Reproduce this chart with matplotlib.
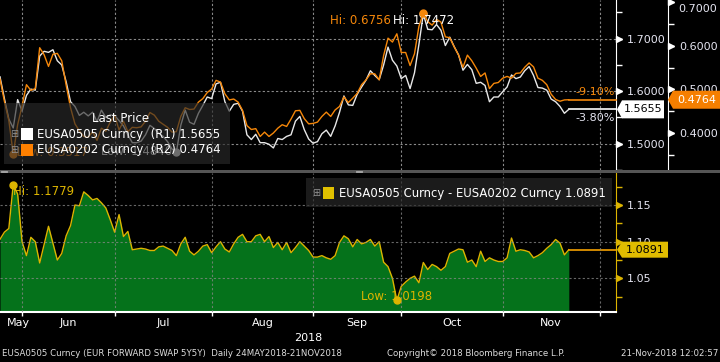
import numpy as np
import pandas as pd
import matplotlib
matplotlib.use('Agg')
import matplotlib.pyplot as plt
import matplotlib.transforms as mtransforms
from matplotlib.patches import Rectangle, Polygon

# daily business days shown on the chart
dates = pd.bdate_range('2018-05-24', '2018-11-21')

r1_name = 'EUSA0505 Curncy'
r2_name = 'EUSA0202 Curncy'

# EUSA0505 (R1, white)
r1_vals = [
    1.6274, 1.586, 1.547, 1.530, 1.584, 1.562, 1.592, 1.604, 1.602, 1.667,
    1.676, 1.674, 1.679, 1.658, 1.650, 1.618, 1.580, 1.571, 1.554, 1.560,
    1.553, 1.560, 1.542, 1.564, 1.550, 1.555, 1.554, 1.544, 1.534, 1.517,
    1.502, 1.502, 1.505, 1.517, 1.535, 1.529, 1.520, 1.514, 1.504, 1.490,
    1.484, 1.535, 1.564, 1.541, 1.537, 1.558, 1.573, 1.589, 1.586, 1.614,
    1.617, 1.580, 1.562, 1.575, 1.577, 1.562, 1.517, 1.508, 1.518, 1.502,
    1.502, 1.499, 1.492, 1.510, 1.508, 1.514, 1.517, 1.543, 1.552, 1.527,
    1.509, 1.501, 1.504, 1.519, 1.526, 1.514, 1.534, 1.560, 1.591, 1.574,
    1.573, 1.594, 1.608, 1.621, 1.639, 1.630, 1.622, 1.650, 1.684, 1.659,
    1.648, 1.624, 1.630, 1.605, 1.635, 1.689, 1.7472, 1.718, 1.717, 1.727,
    1.716, 1.687, 1.703, 1.685, 1.669, 1.640, 1.651, 1.641, 1.615, 1.617,
    1.611, 1.580, 1.589, 1.589, 1.599, 1.608, 1.631, 1.624, 1.627, 1.639,
    1.647, 1.630, 1.607, 1.606, 1.602, 1.585, 1.580, 1.571, 1.558, 1.5655,
]

# EUSA0202 (R2, orange)
r2_vals = [
    0.5241, 0.473, 0.429, 0.3517, 0.419, 0.462, 0.511, 0.498, 0.502, 0.596,
    0.580, 0.553, 0.581, 0.583, 0.566, 0.510, 0.458, 0.421, 0.405, 0.392,
    0.390, 0.403, 0.383, 0.411, 0.404, 0.425, 0.441, 0.407, 0.427, 0.403,
    0.413, 0.412, 0.414, 0.427, 0.447, 0.441, 0.427, 0.420, 0.413, 0.402,
    0.403, 0.438, 0.458, 0.454, 0.455, 0.471, 0.479, 0.493, 0.501, 0.521,
    0.517, 0.490, 0.476, 0.478, 0.471, 0.452, 0.417, 0.408, 0.410, 0.392,
    0.402, 0.392, 0.400, 0.411, 0.419, 0.415, 0.432, 0.451, 0.452, 0.433,
    0.421, 0.422, 0.425, 0.438, 0.448, 0.438, 0.453, 0.461, 0.483, 0.470,
    0.480, 0.491, 0.511, 0.522, 0.536, 0.536, 0.522, 0.578, 0.618, 0.609,
    0.628, 0.585, 0.585, 0.555, 0.582, 0.645, 0.6756, 0.656, 0.648, 0.661,
    0.655, 0.621, 0.619, 0.598, 0.579, 0.551, 0.579, 0.566, 0.549, 0.530,
    0.538, 0.502, 0.514, 0.516, 0.526, 0.530, 0.526, 0.537, 0.538, 0.551,
    0.561, 0.552, 0.526, 0.521, 0.511, 0.489, 0.477, 0.473, 0.476, 0.4764,
]

# EUSA0505 - EUSA0202 (lower panel)
spread_vals = [
    1.1033, 1.113, 1.118, 1.1779, 1.165, 1.100, 1.081, 1.106, 1.100, 1.071,
    1.096, 1.121, 1.098, 1.075, 1.084, 1.108, 1.122, 1.150, 1.149, 1.168,
    1.163, 1.157, 1.159, 1.153, 1.146, 1.130, 1.113, 1.137, 1.107, 1.114,
    1.089, 1.090, 1.091, 1.090, 1.088, 1.088, 1.093, 1.094, 1.091, 1.088,
    1.081, 1.097, 1.106, 1.087, 1.082, 1.087, 1.094, 1.096, 1.085, 1.093,
    1.100, 1.090, 1.086, 1.097, 1.106, 1.110, 1.100, 1.100, 1.108, 1.110,
    1.100, 1.107, 1.092, 1.099, 1.089, 1.099, 1.085, 1.092, 1.100, 1.094,
    1.088, 1.079, 1.079, 1.081, 1.078, 1.076, 1.081, 1.099, 1.108, 1.104,
    1.093, 1.103, 1.097, 1.099, 1.103, 1.094, 1.100, 1.072, 1.066, 1.050,
    1.0198, 1.039, 1.045, 1.050, 1.053, 1.044, 1.0716, 1.062, 1.069, 1.066,
    1.061, 1.066, 1.084, 1.087, 1.090, 1.089, 1.072, 1.075, 1.066, 1.087,
    1.073, 1.078, 1.075, 1.073, 1.073, 1.078, 1.105, 1.087, 1.089, 1.088,
    1.086, 1.078, 1.081, 1.085, 1.091, 1.096, 1.103, 1.098, 1.082, 1.0891,
]

month_labels = ['May', 'Jun', 'Jul', 'Aug', 'Sep', 'Oct', 'Nov']

W, H = 720, 362
BG = 'black'
WHITE = '#e8e8e8'
ORANGE = '#f5870a'
YELLOW = '#dcb400'
GREEN = '#05721b'
GRID = '#8a8a8a'
TXT = '#e4e4f0'


def fx(px):
    return px / W


def fy(py):
    return 1 - py / H


x = np.arange(len(dates))
r1 = np.array(r1_vals)
r2 = np.array(r2_vals)
spread = np.array(spread_vals)

# month separators sit on the last business day of each month
ext = pd.bdate_range('2018-05-24', '2018-12-31')
month_grid = [i - 1 for i in range(1, len(ext)) if ext[i].month != ext[i - 1].month]
xmax = 139.7
label_pos = [4.1] + [(a + b) / 2 for a, b in zip(month_grid[:-1], month_grid[1:])]

plt.rcParams['font.family'] = 'DejaVu Sans'
fig = plt.figure(figsize=(W / 100, H / 100), dpi=100, facecolor=BG)

ax1 = fig.add_axes([0, fy(170), fx(616), 170 / H])
ax2 = ax1.twinx()
ax3 = fig.add_axes([0, fy(312), fx(616), (312 - 173) / H])

for ax in (ax1, ax3):
    ax.set_facecolor(BG)
ax2.patch.set_visible(False)
for ax in (ax1, ax2, ax3):
    for s in ax.spines.values():
        s.set_visible(False)
    ax.set_xlim(0, xmax)

ax1.set_ylim(1.4548, 1.7737)
ax2.set_ylim(0.3149, 0.7057)
ax3.set_ylim(1.0041, 1.1937)

grid_kw = dict(color=GRID, linestyle=(0, (2, 2)), linewidth=0.8)

# ---- top panel
ax1.set_xticks(month_grid)
ax1.tick_params(axis='x', length=0, labelbottom=False)
ax1.grid(True, axis='both', **grid_kw)
ax1.yaxis.tick_right()
ax1.set_yticks([1.5, 1.6, 1.7])
ax1.set_yticks([1.45, 1.55, 1.65, 1.75], minor=True)
ax1.set_yticklabels(['%.4f' % v for v in [1.5, 1.6, 1.7]])
ax1.spines['right'].set_visible(True)
ax1.spines['right'].set_color('white')
ax1.tick_params(axis='y', which='both', colors='white', labelcolor=TXT,
                labelsize=8, direction='out', length=4, width=1, pad=4)

r2_ticks = [0.4, 0.5, 0.6, 0.7]
ax2.spines['right'].set_visible(True)
ax2.spines['right'].set_position(('axes', 668 / 616))
ax2.spines['right'].set_color('white')
ax2.set_yticks(r2_ticks)
ax2.set_yticks([0.35, 0.45, 0.55, 0.65], minor=True)
# the top label is pushed down inside the panel, drawn separately below
ax2.set_yticklabels(['%.4f' % v for v in r2_ticks[:-1]] + [''])
ax2.tick_params(axis='y', which='both', colors='white', labelcolor=TXT,
                labelsize=8, direction='out', length=4, width=1, pad=4)

ax1.plot(x, r1, color=WHITE, lw=1.0, zorder=3)
ax2.plot(x, r2, color=ORANGE, lw=1.0, zorder=3)
ax1.plot([x[-1], xmax], [r1[-1]] * 2, color='white', lw=1.2, clip_on=False)
ax2.plot([x[-1], xmax], [r2[-1]] * 2, color=ORANGE, lw=1.2, clip_on=False)

# tick arrow heads
off = mtransforms.ScaledTranslation(0.03, 0, fig.dpi_scale_trans)
t1 = mtransforms.blended_transform_factory(ax1.transAxes, ax1.transData) + off
ax1.plot([1.0] * 3, [1.5, 1.6, 1.7], ls='none', marker='>', ms=4, color='white',
         transform=t1, clip_on=False)
t2 = mtransforms.blended_transform_factory(ax2.transAxes, ax2.transData) + off
ax2.plot([668 / 616] * 4, r2_ticks, ls='none', marker='>', ms=4,
         color='white', transform=t2, clip_on=False)

# hi / low markers
i1h, i1l = int(np.argmax(r1)), int(np.argmin(r1))
i2h, i2l = int(np.argmax(r2)), int(np.argmin(r2))
ax1.plot(x[i1h], r1[i1h], 'o', ms=5, color=WHITE, zorder=4)
ax2.plot(x[i2h], r2[i2h], 'o', ms=5, color=ORANGE, zorder=4)
ax1.plot(x[i1l], r1[i1l], 'o', ms=5, color=WHITE, zorder=4)
ax2.plot(x[i2l], r2[i2l], 'o', ms=5, color=ORANGE, zorder=4)
ax2.annotate('Hi: %.4f' % r1[i1h], (x[i1h], r2[i2h]), xytext=(0, -7),
             textcoords='offset pixels', ha='center', va='center',
             color='white', fontsize=8.5, zorder=5)
ax2.annotate('Hi: %.4f' % r2[i2h], (x[i2h], r2[i2h]), xytext=(-32, -7),
             textcoords='offset pixels', ha='right', va='center',
             color=ORANGE, fontsize=8.5, zorder=5)
ax1.annotate('Low: %.4f' % r1[i1l], (x[i1l], r1[i1l]), xytext=(-4, 1),
             textcoords='offset pixels', ha='right', va='center',
             color='white', fontsize=8.5, zorder=5)
ax2.annotate('Low: %.4f' % r2[i2l], (x[i2l], r2[i2l]), xytext=(4, 1),
             textcoords='offset pixels', ha='left', va='center',
             color=ORANGE, fontsize=8.5, zorder=5)

# ---- bottom panel
ax3.fill_between(x, spread, 1.0, color=GREEN, lw=0, zorder=1)
ax3.plot(x, spread, color=YELLOW, lw=1.0, zorder=2)
ax3.plot([x[-1], xmax], [spread[-1]] * 2, color='#f5a000', lw=1.2, clip_on=False)
ax3.set_axisbelow(False)
ax3.set_xticks(month_grid)
ax3.tick_params(axis='x', colors='white', direction='out', length=3, width=1,
                labelbottom=False)
ax3.grid(True, axis='both', alpha=0.75, **grid_kw)
ax3.spines['bottom'].set_visible(True)
ax3.spines['bottom'].set_color('white')
ax3.spines['bottom'].set_linewidth(1.5)
ax3.spines['right'].set_visible(True)
ax3.spines['right'].set_color(YELLOW)
ax3.yaxis.tick_right()
ax3.set_yticks([1.05, 1.10, 1.15])
ax3.set_yticks([1.025, 1.075, 1.125, 1.175], minor=True)
ax3.set_yticklabels(['%.2f' % v for v in [1.05, 1.10, 1.15]])
ax3.tick_params(axis='y', which='both', colors=YELLOW, labelcolor=TXT,
                labelsize=8, direction='out', length=4, width=1, pad=4)
t3 = mtransforms.blended_transform_factory(ax3.transAxes, ax3.transData) + off
ax3.plot([1.0] * 3, [1.05, 1.10, 1.15], ls='none', marker='>', ms=4,
         color=YELLOW, transform=t3, clip_on=False)

ish, isl = int(np.argmax(spread)), int(np.argmin(spread))
ax3.plot(x[ish], spread[ish], 'o', ms=5, color=YELLOW, zorder=4, clip_on=False)
ax3.plot(x[isl], spread[isl], 'o', ms=5, color=YELLOW, zorder=4)
ax3.annotate('Hi: %.4f' % spread[ish], (x[ish], spread[ish]), xytext=(0, -7),
             textcoords='offset pixels', ha='left', va='center',
             color=YELLOW, fontsize=8.5, zorder=5)
ax3.annotate('Low: %.4f' % spread[isl], (x[isl], spread[isl]), xytext=(0, 4),
             textcoords='offset pixels', ha='center', va='center',
             color=YELLOW, fontsize=8.5, zorder=5)

for lab, p in zip(month_labels, label_pos):
    ax3.text(p, -0.08, lab, transform=ax3.get_xaxis_transform(),
             ha='center', va='center', color='white', fontsize=8)
ax3.text(xmax / 2, -0.19, '2018', transform=ax3.get_xaxis_transform(),
         ha='center', va='center', color='white', fontsize=8)

# ---- figure level decorations
fig.add_artist(Rectangle((0, fy(173)), 1, 3.5 / H, transform=fig.transFigure,
                         facecolor='#555555', edgecolor='none'))
for hx in (1, 356):
    for hy in (170.5, 172.0):
        fig.add_artist(plt.Line2D([fx(hx), fx(hx + 6)], [fy(hy), fy(hy)],
                                  color='#b0b0b0', lw=0.6))

fig.text(fx(678), fy(9), '%.4f' % r2_ticks[-1], ha='left', va='center',
         color=TXT, fontsize=8)

# legend boxes
fig.add_artist(Rectangle((fx(4), fy(164)), fx(226), 61 / H, transform=fig.transFigure,
                         facecolor='#2a2a2a', edgecolor='none', alpha=0.65))
fig.text(fx(121), fy(119), 'Last Price', ha='center', va='center',
         color='white', fontsize=8.5)
for yy, col, name, val, tag in [(134, 'white', r1_name, r1[-1], 'R1'),
                                (150, '#ff8000', r2_name, r2[-1], 'R2')]:
    fig.text(fx(14), fy(yy), '\u229e', ha='center', va='center', color='#909090', fontsize=7)
    fig.add_artist(Rectangle((fx(21), fy(yy + 6)), fx(12), 12 / H,
                             transform=fig.transFigure, facecolor=col, edgecolor='none'))
    fig.text(fx(37), fy(yy), '%s  (%s) %.4f' % (name, tag, val), ha='left', va='center',
             color='white', fontsize=8.5)

fig.add_artist(Rectangle((fx(306), fy(207)), fx(306), 29 / H, transform=fig.transFigure,
                         facecolor='#2a2a2a', edgecolor='none', alpha=0.65))
fig.text(fx(316), fy(193), '\u229e', ha='center', va='center', color='#909090', fontsize=7)
fig.add_artist(Rectangle((fx(323), fy(199)), fx(11), 12 / H, transform=fig.transFigure,
                         facecolor='#e0c000', edgecolor='none'))
fig.text(fx(339), fy(193), '%s - %s %.4f' % (r1_name, r2_name, spread[-1]),
         ha='left', va='center', color='white', fontsize=8.4)


def ypix(ax, v):
    return H - ax.transData.transform((0, v))[1]


def value_box(x0, x1, yc, face, text, tcol, hh=9):
    pts = [(x0, yc), (x0 + 5, yc - hh), (x1, yc - hh), (x1, yc + hh), (x0 + 5, yc + hh)]
    fig.add_artist(Polygon([(fx(a), fy(b)) for a, b in pts], closed=True,
                           transform=fig.transFigure, facecolor=face, edgecolor='none'))
    fig.text(fx((x0 + 5 + x1) / 2), fy(yc), text, ha='center', va='center',
             color=tcol, fontsize=8)


y_r1 = ypix(ax1, r1[-1])
y_r2 = ypix(ax2, r2[-1])
y_sp = ypix(ax3, spread[-1])
value_box(617, 664, y_r1, 'white', '%.4f' % r1[-1], 'black')
value_box(668, 720, y_r2, '#f57f00', '%.4f' % r2[-1], 'white')
value_box(617, 668, y_sp, '#e0bc00', '%.4f' % spread[-1], 'black', hh=8)

chg1 = (r1[-1] / r1[0] - 1) * 100
chg2 = (r2[-1] / r2[0] - 1) * 100
fig.text(fx(615), fy(y_r2 - 8), '%.2f%%' % chg2, ha='right', va='center',
         color=ORANGE, fontsize=8)
fig.text(fx(615), fy(y_r1 + 9), '%.2f%%' % chg1, ha='right', va='center',
         color=TXT, fontsize=8)

# footer
fig.text(fx(2), fy(354), 'EUSA0505 Curncy (EUR FORWARD SWAP 5Y5Y)  Daily 24MAY2018-21NOV2018',
         ha='left', va='center', color='#dddddd', fontsize=6.2)
fig.text(fx(476), fy(354), 'Copyright\u00a9 2018 Bloomberg Finance L.P.',
         ha='center', va='center', color='#dddddd', fontsize=6.2)
fig.text(fx(718), fy(354), '21-Nov-2018 12:02:57', ha='right', va='center',
         color='#dddddd', fontsize=6.2)

fig.savefig('out.png', dpi=100, facecolor=BG)
